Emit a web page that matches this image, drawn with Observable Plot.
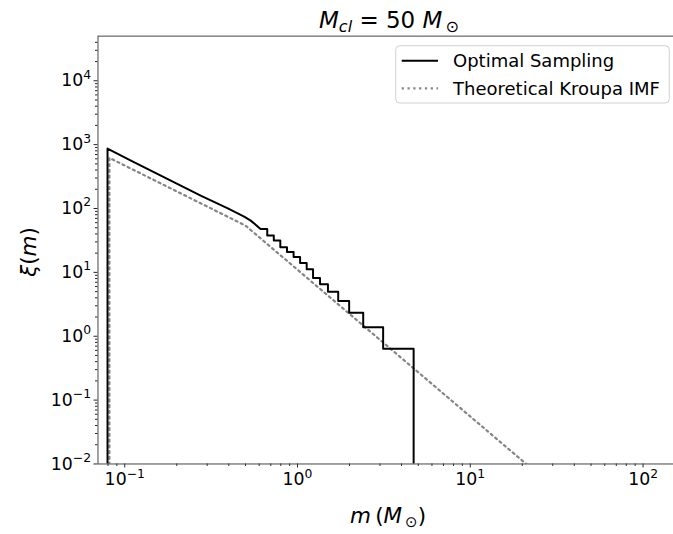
<!DOCTYPE html>
<html><head><meta charset="utf-8">
<script src="https://cdn.jsdelivr.net/npm/d3@7"></script>
<script src="https://cdn.jsdelivr.net/npm/@observablehq/plot@0.6"></script>
<style>
html,body{margin:0;padding:0;overflow:hidden;background:#fff;width:673px;height:534px;}
#fig{position:relative;width:673px;height:534px;font-family:"DejaVu Sans",sans-serif;}
#fig svg{position:absolute;left:0;top:0;}
</style></head><body><div id="fig"></div>
<script>
// ---- data ----
// dense (visually continuous) part of the optimal-sampling curve
const smoothMass = [0.08, 0.11, 0.277, 0.395, 0.491, 0.536, 0.611];
const smoothXi   = [869, 553, 158, 100.4, 74.5, 64.6, 47.9];
// resolved bins of the optimal-sampling staircase (edges and heights)
const binEdges = [0.611, 0.668, 0.729, 0.795, 0.869, 0.949, 1.035, 1.130, 1.23, 1.35, 1.50, 1.72, 1.99, 2.40, 3.13, 4.70];
const binXi    = [47.9, 37.8, 31.5, 24.8, 20.8, 17.4, 14.0, 11.2, 8.18, 6.53, 4.96, 3.57, 2.34, 1.38, 0.637];
// theoretical Kroupa IMF (broken power law vertices)
const theoMass = [0.0815, 0.0815, 0.5, 150];
const theoXi   = [0.001, 620, 54, 0.00011];
// axis ticks
const xTicks = [0.1, 1, 10, 100];
const yTicks = [1e-2, 1e-1, 1, 10, 100, 1e3, 1e4];
const minorMult = [2, 3, 4, 5, 6, 7, 8, 9];
const xDomain = [0.07, 150];
const yDomain = [0.01, 5e4];
const floorXi = 0.001; // "zero" drawn below the axis

// ---- build tables ----
const optimal = [[0.0795, floorXi], [0.0795, smoothXi[0]]];
smoothMass.forEach((m, i) => { if (i > 0 && i < smoothMass.length - 1) optimal.push([m, smoothXi[i]]); });
binXi.forEach((v, i) => { optimal.push([binEdges[i], v]); optimal.push([binEdges[i + 1], v]); });
optimal.push([binEdges[binEdges.length - 1], floorXi]);
const theo = theoMass.map((m, i) => [m, theoXi[i]]);

const decades = d3.range(-2, 5);
const minor = (lo, hi) => decades.flatMap(e => minorMult.map(k => k * 10 ** e)).filter(v => v > lo && v < hi);
const xMinor = minor(xDomain[0], xDomain[1]);
const yMinor = minor(yDomain[0], yDomain[1]);

const fmt = d => "10|" + String(Math.round(Math.log10(d))).replace("-", "\u2212");

const W = 680, H = 534;
const chart = Plot.plot({
  width: W, height: H,
  marginLeft: 98.5, marginRight: 0, marginTop: 36, marginBottom: 65.7,
  style: {fontFamily: "DejaVu Sans", fontSize: "17px", color: "#000", background: "transparent"},
  x: {type: "log", domain: xDomain, label: null},
  y: {type: "log", domain: yDomain, label: null},
  marks: [
    Plot.line(theo, {x: d => d[0], y: d => d[1], stroke: "#858585", strokeWidth: 2.2,
      strokeDasharray: "2.2,3.6", clip: true}),
    Plot.line(optimal, {x: d => d[0], y: d => d[1], stroke: "#000", strokeWidth: 2, clip: true}),
    Plot.axisX(xMinor, {tickSize: 2.5, text: null, stroke: "#222"}),
    Plot.axisY(yMinor, {tickSize: 2.5, text: null, stroke: "#222"}),
    Plot.axisX(xTicks, {tickSize: 4, tickPadding: 5, tickFormat: fmt, stroke: "#222"}),
    Plot.axisY(yTicks, {tickSize: 4, tickPadding: 3, tickFormat: fmt, stroke: "#222"}),
    Plot.frame({stroke: "#444", strokeWidth: 1})
  ]
});
document.getElementById("fig").appendChild(chart);

// tick labels: "10" with a raised exponent
d3.select(chart).selectAll('g[aria-label$="tick label"] text').each(function () {
  const parts = this.textContent.split("|");
  if (parts.length !== 2) return;
  const s = d3.select(this).text("").attr("font-size", 17.5);
  s.append("tspan").text("10");
  s.append("tspan").attr("font-size", 12.5).attr("dy", "-0.62em").text(parts[1]);
});

// ---- overlay: title, axis labels, legend ----
const ov = d3.select("#fig").append("svg").attr("width", 673).attr("height", 534)
  .style("font-family", "DejaVu Sans").style("pointer-events", "none");

const t = ov.append("text").attr("x", 389).attr("y", 28).attr("text-anchor", "middle").attr("font-size", 23);
t.append("tspan").attr("font-style", "italic").text("M");
t.append("tspan").attr("font-style", "italic").attr("font-size", 16).attr("dy", 4).text("cl");
t.append("tspan").attr("dy", -4).text(" = 50 ");
t.append("tspan").attr("font-style", "italic").text("M");
t.append("tspan").attr("font-size", 16).attr("dy", 4).text("\u2009\u2299");

const xl = ov.append("text").attr("x", 388).attr("y", 523).attr("text-anchor", "middle").attr("font-size", 21.5);
xl.append("tspan").attr("font-style", "italic").text("m");
xl.append("tspan").text("\u2009(");
xl.append("tspan").attr("font-style", "italic").text("M");
xl.append("tspan").attr("font-size", 15).attr("dy", 4).text("\u2009\u2299");
xl.append("tspan").attr("dy", -4).text(")");

const yl = ov.append("text").attr("transform", "translate(36,252) rotate(-90)").attr("text-anchor", "middle").attr("font-size", 21.5);
yl.append("tspan").attr("font-style", "italic").text("\u03BE");
yl.append("tspan").text("(");
yl.append("tspan").attr("font-style", "italic").text("m");
yl.append("tspan").text(")");

const lg = ov.append("g");
lg.append("rect").attr("x", 395.7).attr("y", 45.7).attr("width", 273.6).attr("height", 57.3)
  .attr("rx", 4).attr("fill", "#fff").attr("fill-opacity", 0.8).attr("stroke", "#d0d0d0").attr("stroke-width", 1);
const entries = [
  {label: "Optimal Sampling", stroke: "#000", dash: null, w: 2},
  {label: "Theoretical Kroupa IMF", stroke: "#858585", dash: "2.2,3.6", w: 2.2}
];
entries.forEach((e, i) => {
  const y = 60.7 + i * 27.6;
  lg.append("line").attr("x1", 401.7).attr("x2", 438).attr("y1", y).attr("y2", y)
    .attr("stroke", e.stroke).attr("stroke-width", e.w).attr("stroke-dasharray", e.dash);
  lg.append("text").attr("x", 453).attr("y", y + 6.5).attr("font-size", 18).text(e.label);
});
</script></body></html>
